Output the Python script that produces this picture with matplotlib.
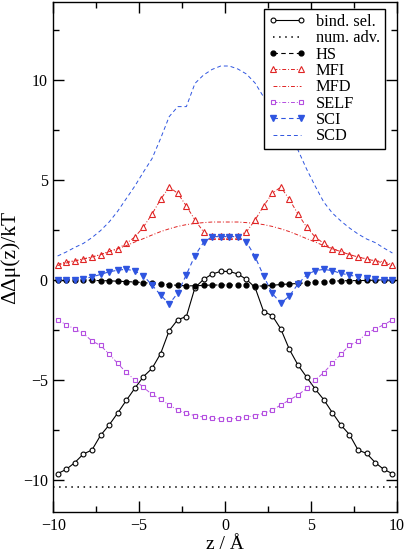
import matplotlib
matplotlib.use("Agg")
import matplotlib.pyplot as plt
from matplotlib.ticker import MultipleLocator

plt.rcParams['font.family'] = ['Liberation Serif', 'DejaVu Serif']

# z grid (Angstrom)
z = [-9.75, -9.25, -8.75, -8.25, -7.75, -7.25, -6.75, -6.25, -5.75, -5.25,
     -4.75, -4.25, -3.75, -3.25, -2.75, -2.25, -1.75, -1.25, -0.75, -0.25,
     0.25, 0.75, 1.25, 1.75, 2.25, 2.75, 3.25, 3.75, 4.25, 4.75,
     5.25, 5.75, 6.25, 6.75, 7.25, 7.75, 8.25, 8.75, 9.25, 9.75]

bind_sel = [-9.68, -9.47, -9.13, -8.70, -8.50, -7.77, -7.25, -6.65, -6.02, -5.41,
            -4.83, -4.42, -3.68, -2.53, -1.98, -1.83, -0.38, 0.03, 0.30, 0.43,
            0.43, 0.30, 0.03, -0.37, -1.58, -1.78, -2.45, -3.47, -4.25, -4.85,
            -5.45, -5.98, -6.63, -7.25, -7.73, -8.50, -8.67, -9.13, -9.47, -9.68]

num_adv = -10.33

hs = [0.0, 0.0, 0.0, -0.01, -0.02, -0.03, -0.04, -0.06, -0.08, -0.10,
      -0.13, -0.17, -0.20, -0.23, -0.27, -0.29, -0.29, -0.27, -0.25, -0.25,
      -0.25, -0.25, -0.27, -0.30, -0.30, -0.27, -0.22, -0.20, -0.17, -0.14,
      -0.10, -0.08, -0.06, -0.04, -0.03, -0.03, -0.02, -0.01, 0.0, 0.0]

mfi = [0.77, 0.92, 0.96, 1.06, 1.15, 1.27, 1.43, 1.57, 1.83, 2.15,
       2.65, 3.30, 4.03, 4.65, 4.33, 3.70, 3.00, 2.41, 2.20, 2.20,
       2.20, 2.20, 2.41, 3.00, 3.70, 4.33, 4.65, 4.03, 3.30, 2.65,
       2.15, 1.83, 1.57, 1.43, 1.27, 1.15, 1.06, 0.96, 0.92, 0.77]

mfd = [0.72, 0.85, 0.95, 1.05, 1.15, 1.27, 1.42, 1.56, 1.72, 1.90,
       2.07, 2.25, 2.42, 2.56, 2.68, 2.77, 2.83, 2.87, 2.90, 2.90,
       2.90, 2.90, 2.87, 2.83, 2.77, 2.68, 2.56, 2.42, 2.25, 2.07,
       1.90, 1.72, 1.56, 1.42, 1.27, 1.15, 1.05, 0.95, 0.85, 0.72]

self_e = [-2.00, -2.23, -2.45, -2.67, -3.05, -3.27, -3.70, -4.17, -4.62, -5.00,
          -5.37, -5.72, -5.97, -6.25, -6.50, -6.67, -6.78, -6.85, -6.92, -6.95,
          -6.95, -6.92, -6.85, -6.78, -6.67, -6.50, -6.25, -6.00, -5.75, -5.42,
          -5.00, -4.63, -4.17, -3.70, -3.27, -3.05, -2.67, -2.45, -2.23, -2.00]

sci = [0.0, 0.0, 0.0, 0.07, 0.15, 0.28, 0.41, 0.49, 0.54, 0.45,
       0.21, -0.25, -0.75, -1.20, -0.65, 0.27, 1.22, 1.88, 2.17, 2.17,
       2.17, 2.17, 1.90, 1.17, 0.20, -0.67, -1.15, -0.80, -0.20, 0.25,
       0.47, 0.53, 0.47, 0.33, 0.25, 0.15, 0.08, 0.03, 0.0, 0.0]

scd = [1.20, 1.40, 1.63, 1.83, 2.12, 2.47, 2.90, 3.44, 4.07, 4.70,
       5.40, 6.07, 7.08, 8.17, 8.67, 8.67, 9.83, 10.25, 10.53, 10.70,
       10.70, 10.55, 10.30, 9.85, 9.15, 8.70, 8.20, 7.20, 6.50, 5.55,
       4.70, 3.90, 3.35, 2.95, 2.60, 2.30, 2.05, 1.87, 1.60, 1.35]

red = '#e02424'
purple = '#b44ee0'
blue = '#2f55e0'

fig = plt.figure(figsize=(4.06, 5.58), dpi=100)
ax = fig.add_axes([0.1313, 0.0824, 0.8458, 0.914])

ax.plot(z, bind_sel, '-', color='black', lw=0.8, marker='o', ms=3.5,
        mfc='white', mec='black', mew=0.8, label='bind. sel.')
ax.axhline(num_adv, color='black', lw=1.1, ls=(0, (1, 3)), label='num. adv.')
ax.plot(z, hs, color='black', lw=0.8, ls=(0, (4, 3)), marker='o', ms=3.5,
        mfc='black', mec='black', label='HS')
ax.plot(z, mfi, color=red, lw=0.7, ls=(0, (4, 2, 1, 2)), marker='^', ms=3.8,
        mfc='white', mec=red, mew=0.8, label='MFI')
ax.plot(z, mfd, color=red, lw=0.7, ls=(0, (4, 2, 1, 2)), label='MFD')
ax.plot(z, self_e, color=purple, lw=0.7, ls=(0, (4, 2, 1, 2)), marker='s', ms=3.5,
        mfc='white', mec=purple, mew=0.8, label='SELF')
ax.plot(z, sci, color=blue, lw=0.8, ls=(0, (4, 3)), marker='v', ms=4,
        mfc=blue, mec=blue, label='SCI')
ax.plot(z, scd, color=blue, lw=0.7, ls=(0, (4, 3)), label='SCD')

ax.set_xlim(-10, 10)
ax.set_ylim(-11.6, 13.9)
ax.xaxis.set_major_locator(MultipleLocator(5))
ax.xaxis.set_minor_locator(MultipleLocator(2.5))
ax.yaxis.set_major_locator(MultipleLocator(5))
ax.yaxis.set_minor_locator(MultipleLocator(2.5))
ax.tick_params(which='both', direction='in', top=True, right=True, width=1)
ax.tick_params(which='major', length=8, labelsize=11.5, pad=4)
ax.tick_params(which='minor', length=4.5)
for s in ax.spines.values():
    s.set_linewidth(1)

ax.set_xlabel('z / Å', fontsize=14, labelpad=2)
ax.set_ylabel('ΔΔμ(z)/kT', fontsize=15.5, labelpad=2)

leg = ax.legend(loc='upper right', bbox_to_anchor=(0.966, 0.986), borderaxespad=0,
                fontsize=11.8, numpoints=2, handlelength=2.3, handletextpad=0.6,
                labelspacing=0.02, borderpad=0.3, fancybox=False, framealpha=1)
leg.get_frame().set_edgecolor('black')
leg.get_frame().set_linewidth(1)

fig.savefig('out.png', dpi=100)
